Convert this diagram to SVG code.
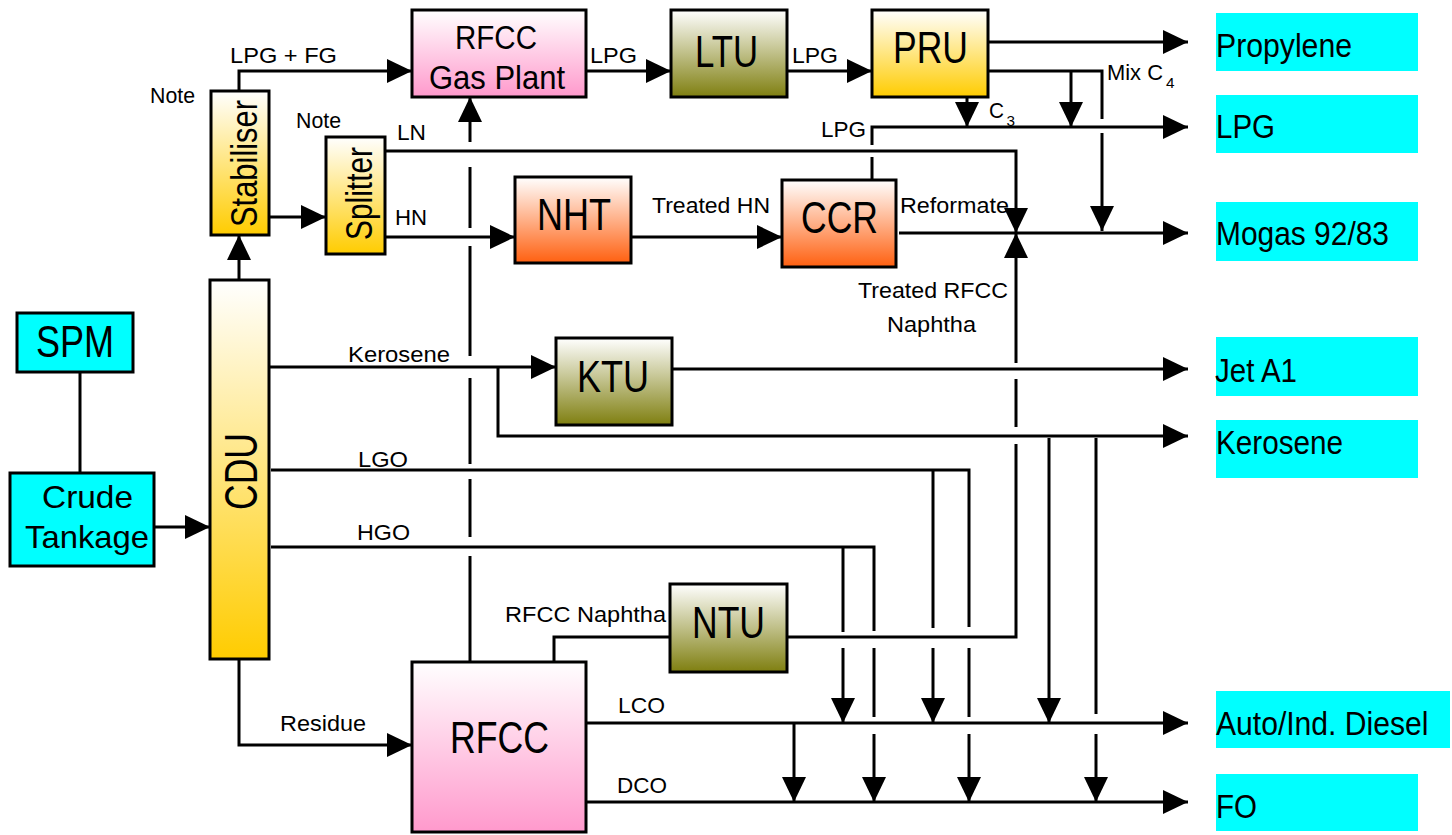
<svg xmlns="http://www.w3.org/2000/svg" width="1452" height="835" viewBox="0 0 1452 835">
<style>
.ln{fill:none;stroke:#000;stroke-width:3}
.arr{marker-end:url(#ah)}
.box{stroke:#000;stroke-width:3}
.cy{fill:#00FFFF}
.t{font-family:"Liberation Sans Narrow","Liberation Sans",Arial,sans-serif;fill:#000}
.s{font-size:22px}
.m{font-size:34px}
.b{font-size:44px}
.sub{font-size:15px}
</style>
<defs>
<marker id="ah" markerUnits="userSpaceOnUse" markerWidth="25" markerHeight="24" refX="25" refY="12" orient="auto" viewBox="0 0 25 24"><path d="M0,0 L25,12 L0,24 z" fill="#000"/></marker>
<linearGradient id="gGold" x1="0" y1="0" x2="0" y2="1"><stop offset="0" stop-color="#FFFFFF"/><stop offset="1" stop-color="#FFCC00"/></linearGradient>
<linearGradient id="gPink" x1="0" y1="0" x2="0" y2="1"><stop offset="0" stop-color="#FFFFFF"/><stop offset="1" stop-color="#FF99CC"/></linearGradient>
<linearGradient id="gOrange" x1="0" y1="0" x2="0" y2="1"><stop offset="0" stop-color="#FFFFFF"/><stop offset="1" stop-color="#FF6010"/></linearGradient>
<linearGradient id="gOlive" x1="0" y1="0" x2="0" y2="1"><stop offset="0" stop-color="#FFFFFF"/><stop offset="1" stop-color="#7F7F10"/></linearGradient>
</defs>
<rect width="1452" height="835" fill="#FFFFFF"/>

<g id="connectors">
<path class="ln" d="M80,372 V473"/>
<path class="ln arr" d="M154,527 H210"/>
<path class="ln arr" d="M239,280 V235"/>
<path class="ln arr" d="M239,91 V71 H412"/>
<path class="ln arr" d="M269,217 H326"/>
<path class="ln arr" d="M586,71 H671"/>
<path class="ln arr" d="M787,71 H872"/>
<path class="ln arr" d="M988,42 H1188"/>
<path class="ln" d="M988,71 H1102 V119"/>
<path class="ln arr" d="M1102,133 V231"/>
<path class="ln arr" d="M1071,71 V127"/>
<path class="ln arr" d="M967,97 V127"/>
<path class="ln" d="M872,180 V157"/>
<path class="ln arr" d="M872,145 V127 H1188"/>
<path class="ln arr" d="M385,151 H1016 V233"/>
<path class="ln arr" d="M385,237 H515"/>
<path class="ln arr" d="M631,237 H782"/>
<path class="ln arr" d="M899,233 H1188"/>
<path class="ln" d="M787,637 H1016 V444"/>
<path class="ln" d="M1016,427 V379"/>
<path class="ln arr" d="M1016,363 V233"/>
<path class="ln arr" d="M269,367 H556"/>
<path class="ln arr" d="M498,367 V436 H1188"/>
<path class="ln arr" d="M672,369 H1188"/>
<path class="ln" d="M271,470 H969 V627"/>
<path class="ln" d="M969,648 V717"/>
<path class="ln arr" d="M969,734 V802"/>
<path class="ln" d="M933,470 V628"/>
<path class="ln arr" d="M933,648 V723"/>
<path class="ln" d="M271,547 H874 V631"/>
<path class="ln" d="M874,648 V717"/>
<path class="ln arr" d="M874,734 V802"/>
<path class="ln" d="M843,547 V632"/>
<path class="ln arr" d="M843,648 V723"/>
<path class="ln arr" d="M1049,438 V723"/>
<path class="ln" d="M1096,438 V714"/>
<path class="ln arr" d="M1096,734 V802"/>
<path class="ln arr" d="M239,659 V745 H412"/>
<path class="ln" d="M470,662 V556"/>
<path class="ln" d="M470,537 V479"/>
<path class="ln" d="M470,464 V378"/>
<path class="ln" d="M470,356 V246"/>
<path class="ln" d="M470,228 V167"/>
<path class="ln arr" d="M470,142 V97"/>
<path class="ln" d="M554,662 V637 H670"/>
<path class="ln arr" d="M586,723 H1188"/>
<path class="ln arr" d="M794,723 V802"/>
<path class="ln arr" d="M586,802 H1188"/>
</g>

<g id="labels">
<text class="t s" x="150" y="103" textLength="45" lengthAdjust="spacingAndGlyphs">Note</text>
<text class="t s" x="296" y="128" textLength="45" lengthAdjust="spacingAndGlyphs">Note</text>
<text class="t s" x="230" y="63" textLength="107" lengthAdjust="spacingAndGlyphs">LPG + FG</text>
<text class="t s" x="397" y="140" textLength="29" lengthAdjust="spacingAndGlyphs">LN</text>
<text class="t s" x="395" y="225" textLength="32" lengthAdjust="spacingAndGlyphs">HN</text>
<text class="t s" x="590" y="63" textLength="47" lengthAdjust="spacingAndGlyphs">LPG</text>
<text class="t s" x="792" y="63" textLength="46" lengthAdjust="spacingAndGlyphs">LPG</text>
<text class="t s" x="821" y="137" textLength="45" lengthAdjust="spacingAndGlyphs">LPG</text>
<text class="t s" x="989" y="118" textLength="15" lengthAdjust="spacingAndGlyphs">C</text>
<text class="t sub" x="1006.5" y="126" textLength="8.5" lengthAdjust="spacingAndGlyphs">3</text>
<text class="t s" x="1107" y="80" textLength="56" lengthAdjust="spacingAndGlyphs">Mix C</text>
<text class="t sub" x="1166" y="88" textLength="8.5" lengthAdjust="spacingAndGlyphs">4</text>
<text class="t s" x="652" y="213" textLength="118" lengthAdjust="spacingAndGlyphs">Treated HN</text>
<text class="t s" x="900" y="213" textLength="109" lengthAdjust="spacingAndGlyphs">Reformate</text>
<text class="t s" x="858" y="298" textLength="150" lengthAdjust="spacingAndGlyphs">Treated RFCC</text>
<text class="t s" x="887" y="332" textLength="89" lengthAdjust="spacingAndGlyphs">Naphtha</text>
<text class="t s" x="348" y="362" textLength="102" lengthAdjust="spacingAndGlyphs">Kerosene</text>
<text class="t s" x="358" y="467" textLength="50" lengthAdjust="spacingAndGlyphs">LGO</text>
<text class="t s" x="357" y="540" textLength="53" lengthAdjust="spacingAndGlyphs">HGO</text>
<text class="t s" x="505" y="622" textLength="161" lengthAdjust="spacingAndGlyphs">RFCC Naphtha</text>
<text class="t s" x="618" y="713" textLength="47" lengthAdjust="spacingAndGlyphs">LCO</text>
<text class="t s" x="617" y="793" textLength="50" lengthAdjust="spacingAndGlyphs">DCO</text>
<text class="t s" x="280" y="731" textLength="86" lengthAdjust="spacingAndGlyphs">Residue</text>
</g>

<g id="spm"><rect class="box cy" x="17" y="313" width="116" height="59"/><text class="t b" x="36" y="357" textLength="78" lengthAdjust="spacingAndGlyphs">SPM</text></g>
<g id="crude-tankage"><rect class="box cy" x="10" y="473" width="144" height="93"/><text class="t" font-size="32" x="42" y="508" textLength="91" lengthAdjust="spacingAndGlyphs">Crude</text><text class="t" font-size="32" x="25" y="548" textLength="124" lengthAdjust="spacingAndGlyphs">Tankage</text></g>
<g id="cdu"><rect class="box" fill="url(#gGold)" x="210" y="280" width="59" height="379"/><text class="t" font-size="47" transform="translate(256.5,510) rotate(-90)" x="0" y="0" textLength="77" lengthAdjust="spacingAndGlyphs">CDU</text></g>
<g id="stabiliser"><rect class="box" fill="url(#gGold)" x="211" y="91" width="58" height="144"/><text class="t" font-size="36" transform="translate(256.5,227) rotate(-90)" x="0" y="0" textLength="127" lengthAdjust="spacingAndGlyphs">Stabiliser</text></g>
<g id="splitter"><rect class="box" fill="url(#gGold)" x="326" y="137" width="59" height="117"/><text class="t" font-size="36" transform="translate(371.5,240) rotate(-90)" x="0" y="0" textLength="93" lengthAdjust="spacingAndGlyphs">Splitter</text></g>
<g id="rfcc-gas-plant"><rect class="box" fill="url(#gPink)" x="412" y="10" width="174" height="87"/><text class="t m" x="455" y="49" textLength="82" lengthAdjust="spacingAndGlyphs">RFCC</text><text class="t m" x="429" y="89" textLength="136" lengthAdjust="spacingAndGlyphs">Gas Plant</text></g>
<g id="ltu"><rect class="box" fill="url(#gOlive)" x="671" y="10" width="116" height="87"/><text class="t b" x="695" y="67" textLength="63" lengthAdjust="spacingAndGlyphs">LTU</text></g>
<g id="pru"><rect class="box" fill="url(#gGold)" x="872" y="10" width="116" height="87"/><text class="t b" x="893" y="63" textLength="75" lengthAdjust="spacingAndGlyphs">PRU</text></g>
<g id="nht"><rect class="box" fill="url(#gOrange)" x="515" y="177" width="116" height="86"/><text class="t b" x="537" y="230" textLength="74" lengthAdjust="spacingAndGlyphs">NHT</text></g>
<g id="ccr"><rect class="box" fill="url(#gOrange)" x="782" y="180" width="114" height="87"/><text class="t b" x="801" y="233" textLength="77" lengthAdjust="spacingAndGlyphs">CCR</text></g>
<g id="ktu"><rect class="box" fill="url(#gOlive)" x="556" y="338" width="116" height="87"/><text class="t b" x="577" y="392" textLength="72" lengthAdjust="spacingAndGlyphs">KTU</text></g>
<g id="ntu"><rect class="box" fill="url(#gOlive)" x="670" y="584" width="117" height="88"/><text class="t b" x="692" y="638" textLength="73" lengthAdjust="spacingAndGlyphs">NTU</text></g>
<g id="rfcc"><rect class="box" fill="url(#gPink)" x="412" y="662" width="174" height="170"/><text class="t b" x="450" y="753" textLength="99" lengthAdjust="spacingAndGlyphs">RFCC</text></g>

<g id="out-propylene"><rect class="cy" x="1216" y="13" width="202" height="58"/><text class="t m" x="1216" y="57" textLength="136" lengthAdjust="spacingAndGlyphs">Propylene</text></g>
<g id="out-lpg"><rect class="cy" x="1216" y="95" width="202" height="58"/><text class="t m" x="1216" y="138" textLength="59" lengthAdjust="spacingAndGlyphs">LPG</text></g>
<g id="out-mogas"><rect class="cy" x="1216" y="202" width="202" height="59"/><text class="t m" x="1216" y="245" textLength="173" lengthAdjust="spacingAndGlyphs">Mogas 92/83</text></g>
<g id="out-jet"><rect class="cy" x="1216" y="337" width="202" height="59"/><text class="t m" x="1215" y="382" textLength="82" lengthAdjust="spacingAndGlyphs">Jet A1</text></g>
<g id="out-kerosene"><rect class="cy" x="1216" y="420" width="202" height="58"/><text class="t m" x="1216" y="454" textLength="127" lengthAdjust="spacingAndGlyphs">Kerosene</text></g>
<g id="out-diesel"><rect class="cy" x="1216" y="691" width="234" height="57"/><text class="t m" transform="translate(1216,735) scale(0.885,1)" x="0" y="0">Auto/Ind. Diesel</text></g>
<g id="out-fo"><rect class="cy" x="1216" y="774" width="202" height="57"/><text class="t m" x="1216" y="818" textLength="41" lengthAdjust="spacingAndGlyphs">FO</text></g>
</svg>
